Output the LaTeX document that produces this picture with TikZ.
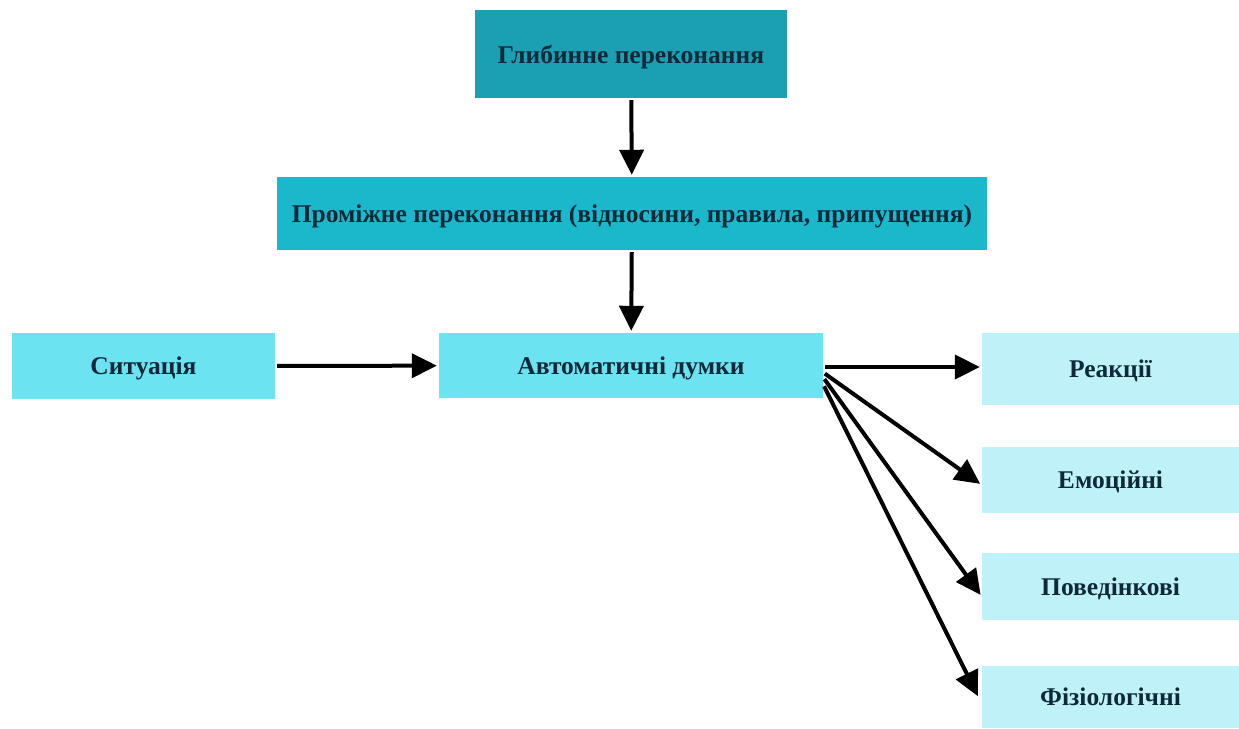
\documentclass[tikz,border=0pt]{standalone}
\usepackage{fontspec}
\setmainfont{Liberation Serif}
\usepackage{tikz}
\usetikzlibrary{positioning,arrows.meta}
\definecolor{deepteal}{HTML}{1AA0B2}
\definecolor{midteal}{HTML}{1BB8CC}
\definecolor{lightcyan}{HTML}{6CE3F0}
\definecolor{paleblue}{HTML}{BEF2F8}
\definecolor{inktext}{HTML}{10293A}

\begin{document}
\begin{tikzpicture}[x=1pt,y=-1pt,
    box/.style={inner sep=0pt,text=inktext,text depth=0pt,font=\bfseries\fontsize{25.5}{30}\selectfont},
    arr/.style={line width=4pt,-{Triangle[length=25pt,width=24pt]},shorten >=2pt,shorten <=2pt}]
            \useasboundingbox (0,0) rectangle (1239,728);
            \fill[white] (0,0) rectangle (1239,728);

            \node[box,fill=deepteal,minimum width=312pt,minimum height=88pt] (core) at (631,54) {Глибинне переконання};
            \node[box,fill=midteal,minimum width=710pt,minimum height=73pt] (inter) at (632,213.5) {Проміжне переконання (відносини, правила, припущення)};
            \node[box,fill=lightcyan,minimum width=263pt,minimum height=66pt] (situ) at (143.5,366) {Ситуація};
            \node[box,fill=lightcyan,minimum width=384pt,minimum height=65pt] (auto) at (631,365.5) {Автоматичні думки};
            \node[box,fill=paleblue,minimum width=257pt,minimum height=72pt] (react) at (1110.5,369) {Реакції};
            \node[box,fill=paleblue,minimum width=257pt,minimum height=66pt] (emo) at (1110.5,480) {Емоційні};
            \node[box,fill=paleblue,minimum width=257pt,minimum height=67pt] (behav) at (1110.5,586.5) {Поведінкові};
            \node[box,fill=paleblue,minimum width=257pt,minimum height=62pt] (phys) at (1110.5,697) {Фізіологічні};

            \draw[arr] (core) -- (inter);
            \draw[arr] (inter) -- (auto);
            \draw[arr] (situ) -- (auto);
            \draw[arr] ([yshift=-1.5pt]auto.east) -- ([yshift=-1.5pt]auto.east -| react.west);
            \draw[arr] ([yshift=-7pt]auto.east) -- ([yshift=-5pt]emo.west);
            \draw[arr] ([yshift=-12pt]auto.east) -- ([yshift=-10pt]behav.west);
            \draw[arr] ([yshift=-19pt]auto.east) -- ([yshift=-1pt,xshift=-3pt]phys.west);
        \end{tikzpicture}
\end{document}
